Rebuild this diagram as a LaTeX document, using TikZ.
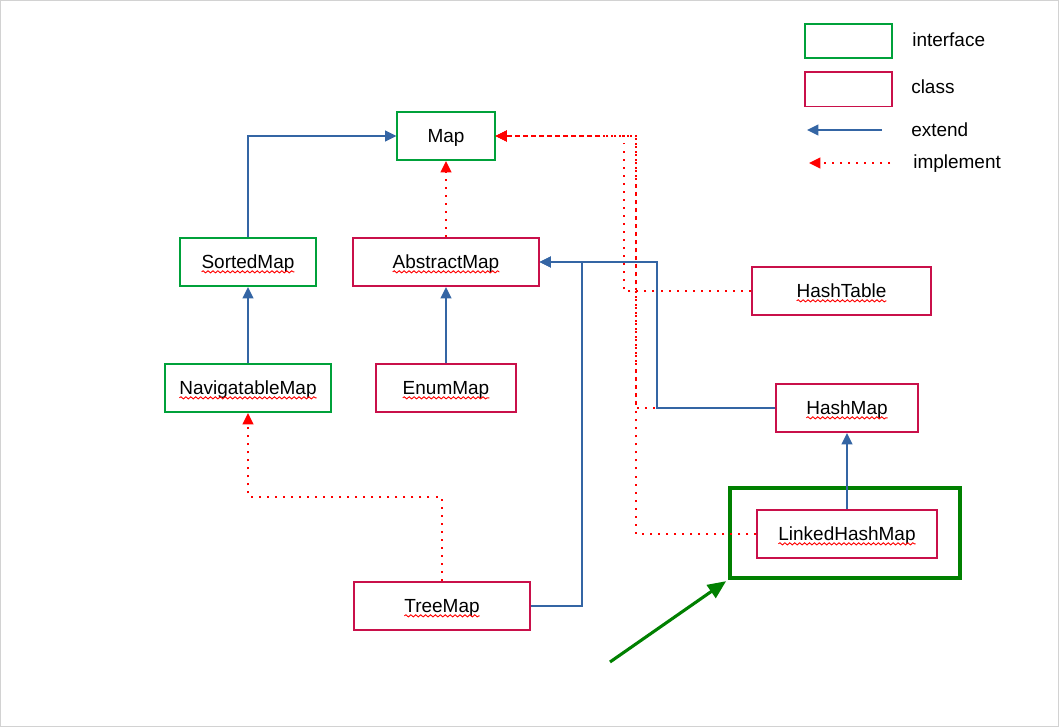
\documentclass[tikz,border=0pt]{standalone}
\usepackage{fontspec}
\setmainfont{Liberation Sans}
\usetikzlibrary{arrows.meta,decorations.pathmorphing}
\definecolor{ifgreen}{RGB}{0,161,58}
\definecolor{clsred}{RGB}{201,16,74}
\definecolor{extblue}{RGB}{52,101,164}
\definecolor{markgreen}{RGB}{0,128,0}
\newcommand{\spell}[1]{\tikz[baseline=(sp.base)]{\node[inner sep=0pt, outer sep=0pt, minimum size=0pt, draw=none] (sp) {#1};
    \draw[red, line width=0.65pt, decorate, decoration={snake, amplitude=0.75pt, segment length=3.5pt}]
        ([yshift=-2.5pt]sp.base west) -- ([yshift=-2.5pt]sp.base east);}}
\tikzset{
    iface/.style = {draw=ifgreen, line width=1.42pt, minimum height=1.2cm, inner sep=0pt, text height=9pt, text depth=0pt},
    cls/.style = {draw=clsred, line width=1.42pt, minimum height=1.2cm, inner sep=0pt, text height=9pt, text depth=0pt},
    extend/.style = {draw=extblue, line width=1.42pt, -{Triangle[length=8pt,width=7.5pt]}},
    implement/.style = {draw=red, line width=1.42pt, dash pattern=on 1.42pt off 4.3pt, -{Triangle[length=8pt,width=7.5pt]}},
    legtext/.style = {anchor=west, inner sep=0pt},
}
\begin{document}
\begin{tikzpicture}[x=0.025cm, y=-0.025cm, every node/.style={font=\fontsize{13.5}{16}\selectfont}]
    \useasboundingbox (0,0) rectangle (1059,727);
    \draw[gray!35, line width=0.7pt] (0.5,0.5) rectangle (1058.5,726.5);

    % legend
    \node[iface, minimum width=2.175cm, minimum height=0.85cm] (legif) at (848.5,41) {};
    \node[legtext] (legiftext) at (912,40) {interface};
    \node[cls, minimum width=2.175cm, minimum height=0.85cm] (legcls) at (848.5,89.5) {};
    \node[legtext] (legclstext) at (911,87) {class};
    \coordinate (legexta) at (882,130);
    \coordinate (legextb) at (807,130);
    \node[legtext] (legexttext) at (911,130) {extend};
    \coordinate (legimpa) at (890,163);
    \coordinate (legimpb) at (809,163);
    \node[legtext] (legimptext) at (913,163.5) {implement};
    \draw[extend] (legexta)--(legextb);
    \draw[implement] (legimpa)--(legimpb);

    % interfaces
    \node[iface, minimum width=2.425cm] (map) at (446,136) {Map};
    \node[iface, minimum width=3.4cm] (sorted) at (248,262) {\spell{SortedMap}};
    \node[iface, minimum width=4.125cm] (navi) at (248,388) {\spell{NavigatableMap}};

    % classes
    \node[cls, minimum width=4.625cm] (abstract) at (446,262) {\spell{AbstractMap}};
    \node[cls, minimum width=3.5cm] (enum) at (446,388) {\spell{EnumMap}};
    \node[cls, minimum width=4.475cm] (hashtable) at (841.5,291) {\spell{HashTable}};
    \node[cls, minimum width=3.525cm] (hashmap) at (847,408) {\spell{HashMap}};
    \node[cls, minimum width=4.475cm] (linked) at (847,534) {\spell{LinkedHashMap}};
    \node[cls, minimum width=4.375cm] (tree) at (442,606) {\spell{TreeMap}};

    \node[draw=markgreen, line width=2.2pt, minimum width=5.75cm, minimum height=2.25cm] (mark) at (845,533) {};
    \coordinate (ptr) at (610,662);

    \coordinate (tbend) at (442,497);
    \coordinate (ajoin) at (582,262);
    \coordinate (hjoin) at (657,262);
    \coordinate (tjoin) at (624,136);
    \coordinate (mjoin) at (636,136);

    \draw[implement] (abstract.north)--(map.south);
    \draw[implement] (tree.north)--(tbend) -| (navi.south);
    \draw[implement] (hashtable.west) -| (tjoin)--(map.east);
    \draw[implement] (hashmap.west) -| (mjoin)--(map.east);
    \draw[implement] (linked.west) -| (mjoin)--(map.east);

    \draw[extend] (sorted.north) |- (map.west);
    \draw[extend] (navi.north)--(sorted.south);
    \draw[extend] (enum.north)--(abstract.south);
    \draw[extend] (tree.east) -| (ajoin)--(abstract.east);
    \draw[extend] (hashmap.west) -| (hjoin)--(abstract.east);
    \draw[extend] (linked.north)--(hashmap.south);

    \draw[markgreen, line width=2.2pt, -{Triangle[length=13pt,width=11pt]}, shorten >=2pt] (ptr)--(mark.south west);
\end{tikzpicture}
\end{document}
